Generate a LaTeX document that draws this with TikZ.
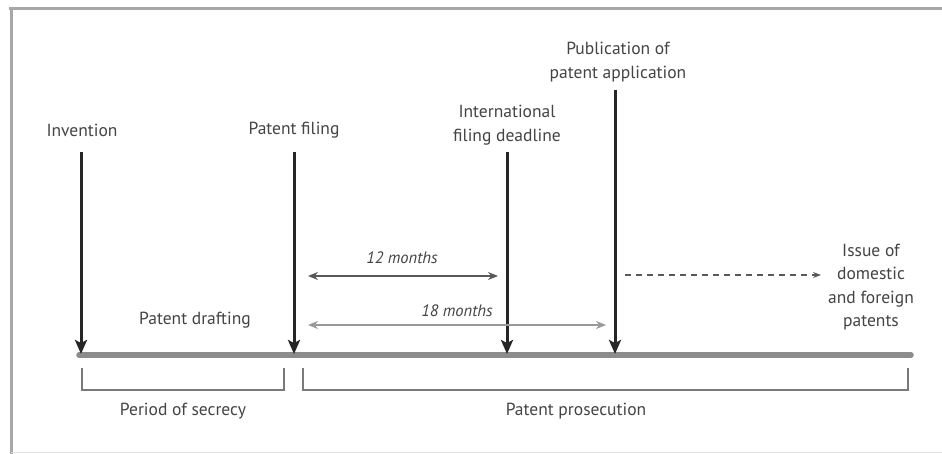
\documentclass[tikz,border=0pt]{standalone}
\usepackage{fontspec}
\setmainfont{PT Sans}
\usetikzlibrary{arrows.meta}
\definecolor{txt}{HTML}{444444}
\definecolor{axis}{HTML}{8C8C8C}
\definecolor{frame}{HTML}{A8A8A8}
\definecolor{brk}{HTML}{7A7A7A}
\begin{document}
\begin{tikzpicture}[x=1pt,y=-1pt,
  lbl/.style={text=txt,font=\fontsize{17.5}{23.5}\selectfont,align=center,inner sep=0pt},
  span/.style={text=txt,font=\fontsize{16.5}{17}\selectfont\itshape,inner sep=0pt},
  event/.style={line width=3pt,draw=black!85,-{Stealth[length=14pt,width=12pt,inset=3pt]}},
  dur/.style={line width=1.4pt,{Stealth[length=10pt,width=8pt]}-{Stealth[length=10pt,width=8pt]}},
  bracket/.style={draw=brk,line width=1.6pt}]
\useasboundingbox (0,0) rectangle (942,454);
% frame
\fill[white] (0,0) rectangle (942,454);
\draw[frame,line width=3pt] (9,8.5) -- (942,8.5);
\draw[frame,line width=3pt] (11,7) -- (11,454);
\draw[black!12,line width=1pt] (11,452.5) -- (942,452.5);

% time axis
\coordinate (axL) at (79,355);
\coordinate (axR) at (911,355);
\draw[axis,line width=5.5pt,line cap=round] (axL) -- (axR);

% event labels
\node[lbl] (inv) at (82,130) {Invention};
\node[lbl] (fil) at (294,130) {Patent filing};
\node[lbl] (intl) at (507,125) {International\\filing deadline};
\node[lbl] (pub) at (618,62) {Publication of\\patent application};

% event arrows
\coordinate (invT) at (81,152);   \coordinate (invB) at (81,354);
\coordinate (filT) at (294,152);  \coordinate (filB) at (294,354);
\coordinate (intT) at (507,152);  \coordinate (intB) at (507,354);
\coordinate (pubT) at (615,90);   \coordinate (pubB) at (615,354);
\draw[event] (invT) -- (invB);
\draw[event] (filT) -- (filB);
\draw[event] (intT) -- (intB);
\draw[event] (pubT) -- (pubB);

% durations
\node[span] (m12) at (402,258) {12 months};
\coordinate (d12a) at (308,276); \coordinate (d12b) at (498,276);
\draw[dur,draw=black!65] (d12a) -- (d12b);
\node[span] (m18) at (457,311) {18 months};
\coordinate (d18a) at (308,325); \coordinate (d18b) at (606,325);
\draw[dur,draw=black!40] (d18a) -- (d18b);

\node[lbl] (draft) at (195,320) {Patent drafting};

% issue of patents
\coordinate (dashA) at (625,275);
\node[lbl] (issue) at (871,287) {Issue of\\domestic\\and foreign\\patents};
\coordinate (dashB) at (821,275);
\draw[black!65,line width=1.1pt,dash pattern=on 6pt off 5pt,-{Stealth[length=8pt,width=6pt]}] (dashA) -- (dashB);

% phase brackets
\coordinate (b1a) at (82,368);  \coordinate (b1b) at (284,368);
\coordinate (b2a) at (303,368); \coordinate (b2b) at (908,368);
\draw[bracket] (b1a) -- ++(0,22) -| (b1b);
\draw[bracket] (b2a) -- ++(0,22) -| (b2b);
\node[lbl] (secr) at (183,411) {Period of secrecy};
\node[lbl] (pros) at (576,411) {Patent prosecution};
\end{tikzpicture}
\end{document}
